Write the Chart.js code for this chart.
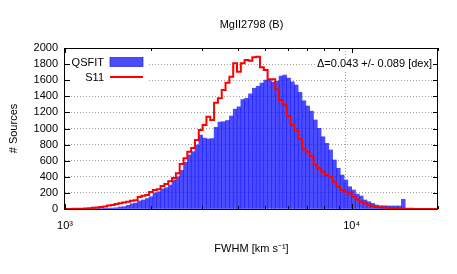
<!DOCTYPE html>
<html>
<head>
<meta charset="utf-8">
<script src="https://cdn.jsdelivr.net/npm/chart.js@4.4.0/dist/chart.umd.min.js"></script>
<style>
  html, body { margin: 0; padding: 0; background: #fff; }
  canvas { display: block; }
</style>
</head>
<body>
<canvas id="hist" width="457" height="274"></canvas>
<script>
const FONT = "'Liberation Sans', Arial, sans-serif";

// histogram binning: log10(FWHM) starting at 3, 75 bins per dex
const logStart = 3;
const binsPerDex = 75;

// counts per bin
const qsfit = [
  0, 0, 0, 0, 1, 2, 3, 4, 5, 6,
  8, 10, 12, 15, 25, 29, 45, 65, 75, 100,
  112, 130, 153, 200, 215, 250, 265, 298, 360, 401,
  480, 580, 671, 712, 795, 919, 880, 870, 875, 1015,
  1080, 1085, 1100, 1155, 1240, 1270, 1360, 1375, 1430, 1500,
  1525, 1565, 1600, 1610, 1578, 1590, 1650, 1665, 1625, 1580,
  1540, 1450, 1345, 1280, 1215, 1106, 1002, 898, 816, 733,
  609, 505, 422, 360, 277, 236, 186, 161, 112, 91,
  70, 50, 41, 40, 38, 37, 38, 38, 120, 3,
  2, 1, 0, 0, 0, 0, 0, 0
];
const s11 = [
  0, 0, 2, 3, 4, 6, 10, 15, 20, 25,
  30, 42, 50, 62, 70, 80, 90, 104, 110, 148,
  165, 174, 210, 236, 245, 286, 310, 345, 385, 445,
  560, 630, 710, 758, 857, 981, 1043, 1147, 1106, 1321,
  1375, 1478, 1569, 1644, 1810, 1706, 1810, 1851, 1843, 1884,
  1892, 1760, 1727, 1611, 1611, 1487, 1354, 1292, 1155, 1043,
  973, 866, 742, 712, 658, 547, 505, 463, 422, 401,
  340, 277, 236, 215, 195, 153, 120, 91, 70, 50,
  37, 25, 21, 18, 10, 8, 6, 5, 4, 3,
  2, 1, 1, 0, 0, 0, 0, 0
];

const xTickValues = [1000, 2000, 3000, 4000, 5000, 6000, 7000, 8000, 9000, 10000, 20000];
const xTickLabels = { 1000: '10\u00B3', 10000: '10\u2074' };
const xMin = 1000, xMax = 20000;
const yMax = 2000, yStep = 200;
const note = '\u0394=0.043 +/- 0.089 [dex]';

const blue = 'rgba(0,0,255,0.7)';
const red = '#ff0000';
const gridColor = '#a0a0a0';

const edges = [];
for (let k = 0; k <= qsfit.length; k++) edges.push(Math.pow(10, logStart + k / binsPerDex));
const centers = qsfit.map((v, k) => Math.pow(10, logStart + (k + 0.5) / binsPerDex));

const barData = centers.map((c, k) => ({ x: c, y: qsfit[k] }));
const stepData = edges.map((e, k) => ({ x: e, y: s11[Math.min(k, s11.length - 1)] }));

Chart.defaults.font.family = FONT;
Chart.defaults.font.size = 11;
Chart.defaults.color = '#000';

// frame, inward tics, key and the annotation, on top of the data
const decorations = {
  id: 'decorations',
  afterDatasetsDraw(chart) {
    const { ctx, chartArea: a, scales: { x, y } } = chart;
    ctx.save();

    // key box (opaque)
    ctx.fillStyle = '#fff';
    ctx.fillRect(a.left + 1, a.top + 4, 82, 34);
    ctx.font = '11px ' + FONT;
    ctx.textAlign = 'right';
    ctx.textBaseline = 'middle';
    ctx.fillStyle = '#000';
    ctx.fillText('QSFIT', a.left + 39, a.top + 14.5);
    ctx.fillText('S11', a.left + 39, a.top + 29.5);
    ctx.fillStyle = blue;
    ctx.fillRect(a.left + 45, a.top + 9.5, 33, 9);
    ctx.strokeStyle = 'rgba(0,0,200,0.8)';
    ctx.lineWidth = 0.7;
    ctx.strokeRect(a.left + 45, a.top + 9.5, 33, 9);
    ctx.strokeStyle = red;
    ctx.lineWidth = 2;
    ctx.beginPath();
    ctx.moveTo(a.left + 45, a.top + 29);
    ctx.lineTo(a.left + 78, a.top + 29);
    ctx.stroke();

    // annotation with white background
    const ny = y.getPixelForValue(1800);
    const nw = ctx.measureText(note).width;
    const nx = a.right - 6;
    ctx.fillStyle = '#fff';
    ctx.fillRect(nx - nw - 2, ny - 6, nw + 3, 12);
    ctx.fillStyle = '#000';
    ctx.fillText(note, nx, ny);

    // inward tics
    ctx.strokeStyle = '#000';
    ctx.lineWidth = 1;
    ctx.beginPath();
    for (let v = 0; v <= yMax; v += yStep) {
      const py = Math.round(y.getPixelForValue(v)) + 0.5;
      ctx.moveTo(a.left, py); ctx.lineTo(a.left + 5, py);
      ctx.moveTo(a.right, py); ctx.lineTo(a.right - 5, py);
    }
    xTickValues.forEach(v => {
      const major = Number.isInteger(Math.log10(v));
      const len = major ? 5 : 3;
      const px = Math.round(x.getPixelForValue(v)) + 0.5;
      ctx.moveTo(px, a.bottom); ctx.lineTo(px, a.bottom - len);
      ctx.moveTo(px, a.top); ctx.lineTo(px, a.top + len);
    });
    ctx.stroke();

    // frame
    ctx.strokeRect(Math.round(a.left) - 0.5, Math.round(a.top) + 0.5,
      Math.round(a.right - a.left), Math.round(a.bottom - a.top));

    // title
    ctx.textAlign = 'center';
    ctx.fillText('MgII2798 (B)', (a.left + a.right) / 2, 25);
    ctx.restore();
  }
};

const ctx = document.getElementById('hist').getContext('2d');

new Chart(ctx, {
  type: 'bar',
  data: {
    datasets: [
      {
        type: 'line',
        label: 'S11',
        data: stepData,
        borderColor: red,
        borderWidth: 2,
        pointRadius: 0,
        stepped: true,
        fill: false,
        order: 0
      },
      {
        type: 'bar',
        label: 'QSFIT',
        data: barData,
        backgroundColor: blue,
        borderWidth: 0,
        barPercentage: 1,
        categoryPercentage: 1,
        order: 1
      }
    ]
  },
  options: {
    responsive: false,
    animation: false,
    events: [],
    layout: { padding: { top: 48, right: 19, left: 0, bottom: 0 } },
    plugins: {
      legend: { display: false },
      tooltip: { enabled: false }
    },
    scales: {
      x: {
        type: 'logarithmic',
        min: xMin,
        max: xMax,
        afterBuildTicks: s => {
          s.ticks = xTickValues.map(v => ({ value: v, major: Number.isInteger(Math.log10(v)) }));
        },
        afterFit: s => { s.height = 65; },
        ticks: {
          autoSkip: false,
          maxRotation: 0,
          padding: 10,
          callback: v => xTickLabels[v] || ''
        },
        grid: {
          drawTicks: false,
          color: c => (c.tick && c.tick.value === 10000) ? gridColor : 'rgba(0,0,0,0)'
        },
        border: { display: false, dash: [1, 2] },
        title: { display: true, text: 'FWHM [km s\u207B\u00B9]', padding: { top: 0, bottom: 18 } }
      },
      y: {
        min: 0,
        max: yMax,
        afterFit: s => { s.width = 65; },
        ticks: { stepSize: yStep, padding: 7, autoSkip: false, callback: v => String(v) },
        grid: {
          drawTicks: false,
          color: c => (c.tick && c.tick.value > 0 && c.tick.value < yMax) ? gridColor : 'rgba(0,0,0,0)'
        },
        border: { display: false, dash: [1, 2] },
        title: { display: true, text: '# Sources', padding: { top: 7, bottom: 0 } }
      }
    }
  },
  plugins: [decorations]
});
</script>
</body>
</html>
